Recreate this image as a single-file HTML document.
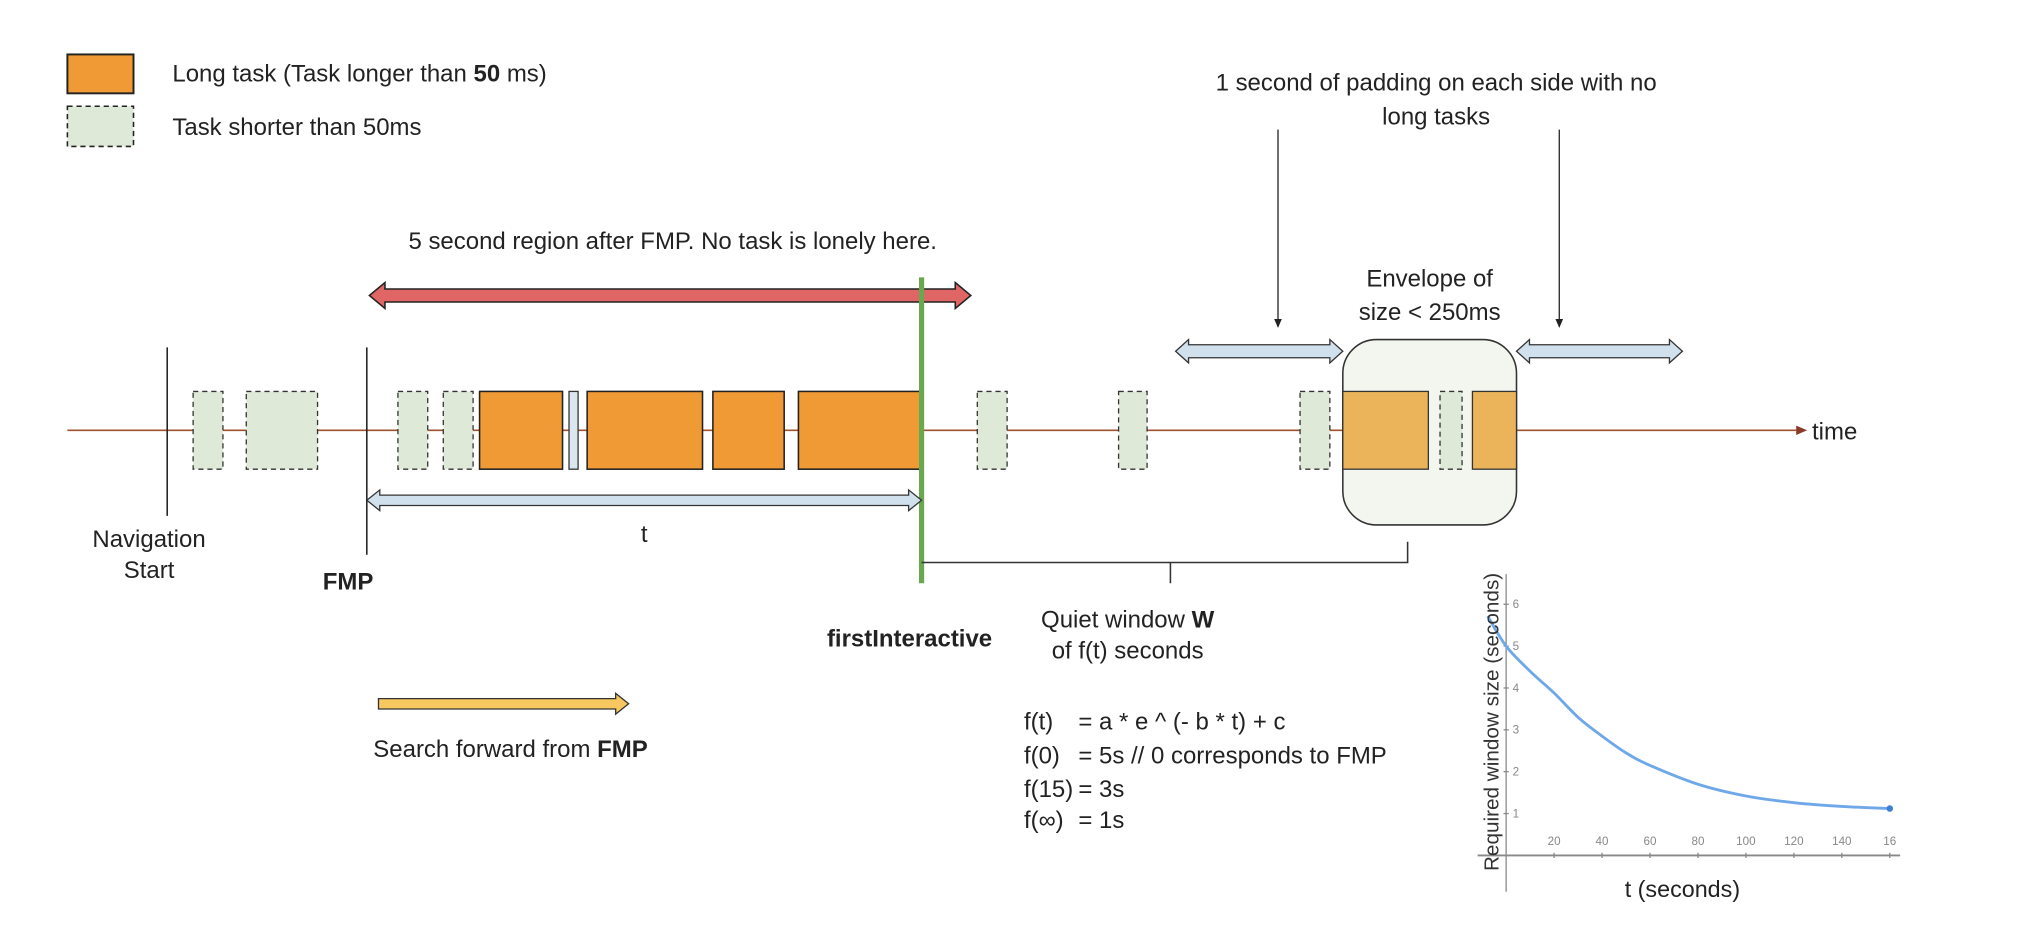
<!DOCTYPE html>
<html><head><meta charset="utf-8"><style>
html,body{margin:0;padding:0;background:#fff;}
svg{display:block;font-family:"Liberation Sans",sans-serif;}
.t{font-size:18.5px;fill:#222;}
</style></head><body>
<svg id="diagram" width="2022" height="928" viewBox="0 0 1560 716" preserveAspectRatio="none">
<defs>
<marker id="ah" markerWidth="8" markerHeight="8" refX="6" refY="4" orient="auto"><path d="M0,1 L7,4 L0,7 Z" fill="#222"/></marker>
<marker id="ahr" markerWidth="8" markerHeight="8" refX="6" refY="4" orient="auto"><path d="M0,1 L7,4 L0,7 Z" fill="#8b3a2a"/></marker>
</defs>
<g>
<rect x="52" y="42" width="51" height="30" fill="#f09a35" stroke="#222" stroke-width="1.5"/>
<text class="t" x="133" y="63">Long task (Task longer than <tspan font-weight="bold">50</tspan> ms)</text>
<rect x="52" y="82" width="51" height="31" fill="#dfe9d8" stroke="#222" stroke-width="1.2" stroke-dasharray="4,3"/>
<text class="t" x="133" y="104">Task shorter than 50ms</text>
</g>
<text class="t" x="519" y="192" text-anchor="middle">5 second region after FMP. No task is lonely here.</text>
<path d="M285,228 L297,218 L297,223 L737,223 L737,218 L749,228 L737,238 L737,233 L297,233 L297,238 Z" fill="#e06666" stroke="#222" stroke-width="1.2"/>
<line x1="52" y1="332" x2="1393" y2="332" stroke="#a0522d" stroke-width="1.2" marker-end="url(#ahr)"/>
<text class="t" x="1398" y="339">time</text>
<line x1="129" y1="268" x2="129" y2="398" stroke="#222" stroke-width="1.2"/>
<text class="t" text-anchor="middle"><tspan x="115" y="422">Navigation</tspan><tspan x="115" y="446">Start</tspan></text>
<line x1="283" y1="268" x2="283" y2="428" stroke="#222" stroke-width="1.2"/>
<text class="t" x="249" y="455" font-weight="bold">FMP</text>
<g>
<rect x="149" y="302" width="23" height="60" fill="#dfe9d8" stroke="#333" stroke-dasharray="4,3"/>
<rect x="190" y="302" width="55" height="60" fill="#dfe9d8" stroke="#333" stroke-dasharray="4,3"/>
<rect x="307" y="302" width="23" height="60" fill="#dfe9d8" stroke="#333" stroke-dasharray="4,3"/>
<rect x="342" y="302" width="23" height="60" fill="#dfe9d8" stroke="#333" stroke-dasharray="4,3"/>
<rect x="439" y="302" width="7" height="60" fill="#dbe6ee" stroke="#333"/>
<rect x="754" y="302" width="23" height="60" fill="#dfe9d8" stroke="#333" stroke-dasharray="4,3"/>
<rect x="863" y="302" width="22" height="60" fill="#dfe9d8" stroke="#333" stroke-dasharray="4,3"/>
<rect x="1003" y="302" width="23" height="60" fill="#dfe9d8" stroke="#333" stroke-dasharray="4,3"/>
</g>
<g>
<rect x="370" y="302" width="64" height="60" fill="#f09a35" stroke="#222" stroke-width="1.2"/>
<rect x="453" y="302" width="89" height="60" fill="#f09a35" stroke="#222" stroke-width="1.2"/>
<rect x="550" y="302" width="55" height="60" fill="#f09a35" stroke="#222" stroke-width="1.2"/>
<rect x="616" y="302" width="95" height="60" fill="#f09a35" stroke="#222" stroke-width="1.2"/>
</g>
<line x1="711" y1="214" x2="711" y2="450" stroke="#6aa84f" stroke-width="4"/>
<text class="t" x="638" y="499" font-weight="bold">firstInteractive</text>
<path d="M283,386 L293,378 L293,382 L701,382 L701,378 L711,386 L701,394 L701,390 L293,390 L293,394 Z" fill="#d0e0ec" stroke="#333" stroke-width="1"/>
<text class="t" x="497" y="418" text-anchor="middle">t</text>
<g>
<rect x="1036" y="262" width="134" height="143" rx="26" fill="#f2f6ee" stroke="#333" stroke-width="1.2"/>
<rect x="1036" y="302" width="66" height="60" fill="#ebb45a" stroke="#333" stroke-width="1"/>
<rect x="1111" y="302" width="17" height="60" fill="#dfe9d8" stroke="#333" stroke-dasharray="4,3"/>
<rect x="1136" y="302" width="34" height="60" fill="#ebb45a" stroke="#333" stroke-width="1"/>
</g>
<text class="t" text-anchor="middle"><tspan x="1103" y="221">Envelope of</tspan><tspan x="1103" y="247">size &lt; 250ms</tspan></text>
<path d="M907,271 L917,262 L917,266 L1026,266 L1026,262 L1036,271 L1026,280 L1026,276 L917,276 L917,280 Z" fill="#d0e0ec" stroke="#333" stroke-width="1"/>
<path d="M1170,271 L1180,262 L1180,266 L1288,266 L1288,262 L1298,271 L1288,280 L1288,276 L1180,276 L1180,280 Z" fill="#d0e0ec" stroke="#333" stroke-width="1"/>
<text class="t" text-anchor="middle"><tspan x="1108" y="70">1 second of padding on each side with no</tspan><tspan x="1108" y="96">long tasks</tspan></text>
<line x1="986" y1="100" x2="986" y2="252" stroke="#222" stroke-width="1" marker-end="url(#ah)"/>
<line x1="1203" y1="100" x2="1203" y2="252" stroke="#222" stroke-width="1" marker-end="url(#ah)"/>
<path d="M711,434 L1086,434 L1086,418 M903,434 L903,450" fill="none" stroke="#333" stroke-width="1.2"/>
<text class="t" text-anchor="middle"><tspan x="870" y="484">Quiet window <tspan font-weight="bold">W</tspan></tspan><tspan x="870" y="508">of f(t) seconds</tspan></text>
<path d="M292,539 L475,539 L475,535 L485,543 L475,551 L475,547 L292,547 Z" fill="#f6c85f" stroke="#333" stroke-width="1"/>
<text class="t" x="288" y="584">Search forward from <tspan font-weight="bold">FMP</tspan></text>
<g class="t">
<text class="t" x="790" y="563">f(t)</text><text class="t" x="832" y="563">= a * e ^ (- b * t) + c</text>
<text class="t" x="790" y="589">f(0)</text><text class="t" x="832" y="589">= 5s  // 0 corresponds to FMP</text>
<text class="t" x="790" y="615">f(15)</text><text class="t" x="832" y="615">= 3s</text>
<text class="t" x="790" y="639">f(∞)</text><text class="t" x="832" y="639">= 1s</text>
</g>
<g id="chart"></g>
</svg>
<script>
const tValues = [-7.7, 0, 10, 20, 30, 40, 50, 60, 80, 100, 120, 140, 160];
const windowSizes = [5.72, 5.0, 4.4, 3.88, 3.3, 2.85, 2.45, 2.15, 1.7, 1.42, 1.26, 1.17, 1.12];
const xTicks = [20, 40, 60, 80, 100, 120, 140, 160];
const xTickLabels = ["20", "40", "60", "80", "100", "120", "140", "16"];
const yTicks = [1, 2, 3, 4, 5, 6];
const NS = "http://www.w3.org/2000/svg";
const g = document.getElementById("chart");
const x0 = 1162, xStep = 37 / 20, y0 = 660, yStep = 32.3;
function sx(t) { return x0 + t * xStep; }
function sy(v) { return y0 - v * yStep; }
function mk(tag, attrs, parent) {
  const e = document.createElementNS(NS, tag);
  for (const k in attrs) e.setAttribute(k, attrs[k]);
  (parent || g).appendChild(e);
  return e;
}
let e;
e = mk("line", { x1: 1140, y1: y0, x2: 1466, y2: y0, stroke: "#888", "stroke-width": 1.5 });


e = mk("line", { x1: x0, y1: 443, x2: x0, y2: 688, stroke: "#888", "stroke-width": 1 });


xTicks.forEach((t, i) => {
  const tk = mk("line", { x1: sx(t), y1: y0 - 2, x2: sx(t), y2: y0 + 2, stroke: "#888" });
  
  
  const lb = mk("text", { x: sx(t), y: y0 - 8, "font-size": 9, fill: "#888", "text-anchor": "middle" });
  lb.textContent = xTickLabels[i];
  
  
});
yTicks.forEach(v => {
  const tk = mk("line", { x1: x0 - 2, y1: sy(v), x2: x0 + 2, y2: sy(v), stroke: "#888" });
  
  
  const lb = mk("text", { x: x0 + 5, y: sy(v) + 3, "font-size": 9, fill: "#888" });
  lb.textContent = String(v);
  
  
});
const pts = tValues.map((t, i) => [sx(t), sy(windowSizes[i])]);
let d = "M" + pts[0][0] + "," + pts[0][1];
for (let i = 0; i < pts.length - 1; i++) {
  const p0 = pts[i - 1] || pts[i], p1 = pts[i], p2 = pts[i + 1], p3 = pts[i + 2] || p2;
  const c1 = [p1[0] + (p2[0] - p0[0]) / 6, p1[1] + (p2[1] - p0[1]) / 6];
  const c2 = [p2[0] - (p3[0] - p1[0]) / 6, p2[1] - (p3[1] - p1[1]) / 6];
  d += " C" + c1 + " " + c2 + " " + p2;
}
e = mk("path", { d: d, fill: "none", stroke: "#6fa8e8", "stroke-width": 2.2 });


const last = pts[pts.length - 1];
e = mk("circle", { cx: last[0], cy: last[1], r: 2.5, fill: "#3d7fd6" });


e = mk("text", { x: 0, y: 0, "font-size": 16, fill: "#333", "text-anchor": "middle", transform: "translate(1156,557) rotate(-90)" });
e.textContent = "Required window size (seconds)";


e = mk("text", { x: 1298, y: 692, "font-size": 18, fill: "#222", "text-anchor": "middle" });
e.textContent = "t (seconds)";


</script>
</body></html>
